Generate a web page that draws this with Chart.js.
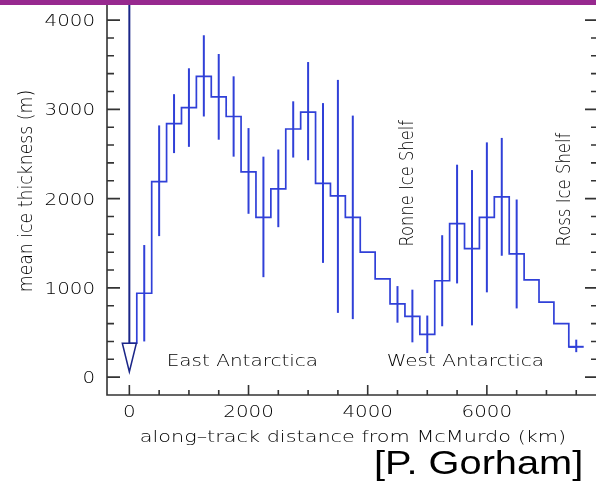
<!DOCTYPE html>
<html>
<head>
<meta charset="utf-8">
<title>Mean ice thickness along track</title>
<script src="https://cdn.jsdelivr.net/npm/chart.js@4.4.0/dist/chart.umd.min.js"></script>
<style>
    html, body { margin: 0; padding: 0; background: #fff; overflow: hidden; }
    #wrap { position: relative; width: 596px; height: 484px; overflow: hidden; }
    #thickness { position: absolute; left: 0; top: 0; }
    #topbar { position: absolute; left: 0; top: 0; width: 596px; height: 5px; background: #97298f; }
</style>
</head>
<body>
<div id="wrap">
    <canvas id="thickness" width="620" height="484"></canvas>
    <div id="topbar"></div>
</div>
<script>
// bin centres along the flight track (km)
const distanceKm = [
    0, 250, 500, 750, 1000, 1250, 1500, 1750, 2000, 2250, 2500,
    2750, 3000, 3250, 3500, 3750, 4000, 4250, 4500, 4750, 5000,
    5250, 5500, 5750, 6000, 6250, 6500, 6750, 7000, 7250, 7500
];
// mean ice thickness per bin (m)
const thicknessM = [
    380, 940, 2190, 2840, 3020, 3370, 3140, 2920, 2300, 1790, 2110,
    2780, 2970, 2170, 2030, 1790, 1400, 1100, 820, 680, 480,
    1080, 1720, 1440, 1790, 2020, 1380, 1090, 840, 600, 340
];
// spread of each bin (m), null where no bar is drawn
const errLow = [
    null, 400, 1580, 2510, 2580, 2920, 2660, 2470, 1830, 1120, 1680,
    2460, 2430, 1280, 720, 650, null, null, 610, 390, 270,
    570, 1050, 580, 950, 1360, 770, null, null, null, 280
];
const errHigh = [
    null, 1480, 2820, 3170, 3460, 3830, 3620, 3370, 2790, 2470, 2550,
    3090, 3530, 3070, 3330, 2930, null, null, 1020, 980, 690,
    1590, 2380, 2320, 2630, 2680, 1990, null, null, null, 420
];
// horizontal half-width of the bar (km), only on the last bin
const errHalfKm = [
    null, null, null, null, null, null, null, null, null, null, null,
    null, null, null, null, null, null, null, null, null, null,
    null, null, null, null, null, null, null, null, null, 125
];

const xMajorTicks = [0, 2000, 4000, 6000];
const yMajorTicks = [0, 1000, 2000, 3000, 4000];
const X_MINOR_STEP = 500;
const Y_MINOR_STEP = 200;
const X_MIN = -375, X_MAX = 7865;
const Y_MIN = -200, Y_MAX = 4225;

// upper-limit marker at the start of the track
const arrowAt = { x: 0, base: 380, tip: 60, halfKm: 118 };

const annotations = [
    { text: 'East Antarctica', x: 627, y: 121, rotate: 0, stretch: 1.25 },
    { text: 'West Antarctica', x: 4319, y: 121, rotate: 0, stretch: 1.25 },
    { text: 'Ronne Ice Shelf', x: 4765, y: 1463, rotate: -90, stretch: 1.02 },
    { text: 'Ross Ice Shelf', x: 7394, y: 1463, rotate: -90, stretch: 1.03 }
];

const FONT = '"DejaVu Sans", Verdana, sans-serif';
const FONT_WEIGHT = 200;
const TEXT_COLOR = '#000';
const AXIS_COLOR = '#333';
const LINE_BLUE = '#3040d8';
const ARROW_BLUE = '#1b2688';
const WIDE = 1.24;   // horizontal stretch of the axis lettering

function drawText(ctx, text, x, y, o) {
    ctx.save();
    ctx.translate(x, y);
    if (o.rotate) ctx.rotate(o.rotate * Math.PI / 180);
    ctx.scale(o.along || 1, o.across || 1);
    ctx.font = `${o.weight || FONT_WEIGHT} ${o.size || 16}px ${o.family || FONT}`;
    ctx.fillStyle = o.color || TEXT_COLOR;
    ctx.textAlign = o.align || 'left';
    ctx.textBaseline = 'alphabetic';
    ctx.fillText(text, 0, 0);
    ctx.restore();
}

const errorBars = {
    id: 'errorBars',
    afterDatasetsDraw(chart) {
        const { ctx, chartArea, scales: { x, y } } = chart;
        ctx.save();
        ctx.strokeStyle = LINE_BLUE;
        ctx.lineWidth = 2;
        distanceKm.forEach((d, i) => {
            if (errLow[i] == null) return;
            const px = x.getPixelForValue(d);
            ctx.beginPath();
            ctx.moveTo(px, y.getPixelForValue(errLow[i]));
            ctx.lineTo(px, y.getPixelForValue(errHigh[i]));
            ctx.stroke();
            if (errHalfKm[i]) {
                const py = y.getPixelForValue(thicknessM[i]);
                ctx.beginPath();
                ctx.moveTo(x.getPixelForValue(d - errHalfKm[i]), py);
                ctx.lineTo(x.getPixelForValue(d + errHalfKm[i]), py);
                ctx.stroke();
            }
        });

        // arrow: line from the top down to an open triangle
        const ax = x.getPixelForValue(arrowAt.x);
        const baseY = y.getPixelForValue(arrowAt.base);
        ctx.strokeStyle = ARROW_BLUE;
        ctx.lineWidth = 2;
        ctx.beginPath();
        ctx.moveTo(ax, chartArea.top);
        ctx.lineTo(ax, baseY);
        ctx.stroke();
        ctx.lineWidth = 1.5;
        ctx.beginPath();
        ctx.moveTo(x.getPixelForValue(arrowAt.x - arrowAt.halfKm), baseY);
        ctx.lineTo(x.getPixelForValue(arrowAt.x + arrowAt.halfKm), baseY);
        ctx.lineTo(ax, y.getPixelForValue(arrowAt.tip));
        ctx.closePath();
        ctx.stroke();
        ctx.restore();
    }
};

const frameAndText = {
    id: 'frameAndText',
    afterDraw(chart) {
        const { ctx, chartArea: a, scales: { x, y } } = chart;
        ctx.save();
        ctx.strokeStyle = AXIS_COLOR;
        ctx.lineWidth = 1.6;
        ctx.beginPath();
        ctx.moveTo(a.left, a.top);
        ctx.lineTo(a.left, a.bottom);
        ctx.lineTo(a.right, a.bottom);
        ctx.lineTo(a.right, a.top);
        ctx.stroke();

        // inward ticks on left/right
        for (let v = 0; v <= Y_MAX; v += Y_MINOR_STEP) {
            const py = y.getPixelForValue(v);
            const len = yMajorTicks.includes(v) ? 13 : 7;
            ctx.beginPath();
            ctx.moveTo(a.left, py); ctx.lineTo(a.left + len, py);
            ctx.moveTo(a.right, py); ctx.lineTo(a.right - len, py);
            ctx.stroke();
        }
        // inward ticks on the bottom
        for (let v = 0; v <= X_MAX; v += X_MINOR_STEP) {
            const px = x.getPixelForValue(v);
            const len = xMajorTicks.includes(v) ? 10 : 5;
            ctx.beginPath();
            ctx.moveTo(px, a.bottom); ctx.lineTo(px, a.bottom - len);
            ctx.stroke();
        }
        ctx.restore();

        yMajorTicks.forEach(v => {
            drawText(ctx, String(v), a.left - 12, y.getPixelForValue(v) + 6,
                { align: 'right', along: WIDE });
        });
        xMajorTicks.forEach(v => {
            drawText(ctx, String(v), x.getPixelForValue(v), a.bottom + 22,
                { align: 'center', along: WIDE });
        });

        drawText(ctx, 'along\u2013track distance from McMurdo (km)', 353, a.bottom + 47,
            { align: 'center', along: 1.3 });
        drawText(ctx, 'mean ice thickness (m)', 32, 191,
            { align: 'center', rotate: -90, along: 1.08, across: WIDE });

        annotations.forEach(n => {
            const opts = n.rotate
                ? { rotate: n.rotate, along: n.stretch, across: WIDE }
                : { along: n.stretch };
            drawText(ctx, n.text, x.getPixelForValue(n.x), y.getPixelForValue(n.y), opts);
        });

        drawText(ctx, '[P. Gorham]', 374, 474,
            { size: 34, weight: 400, family: '"Liberation Sans", Arial, sans-serif', color: '#000', along: 1.17 });
    }
};

new Chart(document.getElementById('thickness').getContext('2d'), {
    type: 'line',
    data: {
        datasets: [{
            label: 'mean ice thickness',
            data: distanceKm.map((d, i) => ({ x: d, y: thicknessM[i] })),
            stepped: 'middle',
            borderColor: LINE_BLUE,
            borderWidth: 1.7,
            pointRadius: 0,
            fill: false
        }]
    },
    options: {
        responsive: false,
        animation: false,
        devicePixelRatio: 1,
        layout: { padding: { left: 107, right: 22, top: 0, bottom: 89 } },
        plugins: {
            legend: { display: false },
            tooltip: { enabled: false }
        },
        scales: {
            x: { type: 'linear', min: X_MIN, max: X_MAX, display: false },
            y: { type: 'linear', min: Y_MIN, max: Y_MAX, display: false }
        }
    },
    plugins: [errorBars, frameAndText]
});
</script>
</body>
</html>
